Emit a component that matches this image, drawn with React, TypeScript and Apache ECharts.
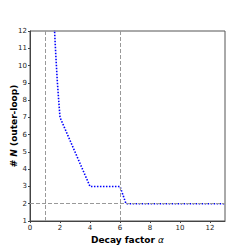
import React, { useEffect, useRef } from "react";
import * as echarts from "echarts";

const alphaValues = [1.62, 1.72, 1.82, 1.92, 2.0, 4.0, 6.0, 6.4, 13.0];
const nValues = [12.3, 10.6, 9.1, 7.9, 7.0, 3.0, 3.0, 2.0, 2.0];
const xTicks = [0, 2, 4, 6, 8, 10, 12];
const refAlphas = [1, 6];
const refN = [2];

export default function App() {
  const ref = useRef<HTMLDivElement>(null);
  useEffect(() => {
    const chart = echarts.init(ref.current!, null, { renderer: "svg" });
    const labelStyle = { fontSize: 7, color: "#222", fontFamily: "DejaVu Sans" };
    chart.setOption({
      animation: false,
      grid: {
        left: 30,
        right: 24,
        top: 31,
        bottom: 28,
        show: true,
        borderColor: "#555",
        borderWidth: 1,
        containLabel: false,
        outerBoundsMode: "none",
      },
      xAxis: {
        type: "value",
        min: 0,
        max: 13,
        name: "{b|Decay factor }{i|α}",
        nameLocation: "middle",
        nameGap: 13,
        nameTextStyle: {
          rich: {
            b: { fontSize: 9, fontWeight: "bold", color: "#000", fontFamily: "DejaVu Sans" },
            i: { fontSize: 9, fontStyle: "italic", color: "#000", fontFamily: "DejaVu Sans" },
          },
        },
        axisLine: { show: true, lineStyle: { color: "#444", width: 1 } },
        axisTick: { show: true, length: 2, customValues: xTicks, lineStyle: { color: "#444" } },
        axisLabel: { ...labelStyle, margin: 3, customValues: xTicks },
        splitLine: { show: false },
      },
      yAxis: {
        type: "value",
        min: 1,
        max: 12,
        interval: 1,
        name: "{b|# }{i|N}{b| (outer-loop)}",
        nameLocation: "middle",
        nameGap: 12,
        nameMoveOverlap: false,
        nameTextStyle: {
          rich: {
            b: { fontSize: 9, fontWeight: "bold", color: "#000", fontFamily: "DejaVu Sans" },
            i: { fontSize: 9, fontStyle: "italic", fontWeight: "bold", color: "#000", fontFamily: "DejaVu Sans" },
          },
        },
        axisLine: { show: true, lineStyle: { color: "#444", width: 1 } },
        axisTick: { show: true, length: 2, lineStyle: { color: "#444" } },
        axisLabel: { ...labelStyle, margin: 3 },
        splitLine: { show: false },
      },
      series: [
        {
          type: "line",
          data: alphaValues.map((a, i) => [a, nValues[i]]),
          showSymbol: false,
          symbol: "none",
          clip: true,
          lineStyle: { color: "#0000ff", width: 1.6, type: [1.5, 1.5] },
          markLine: {
            silent: true,
            symbol: "none",
            label: { show: false },
            lineStyle: { color: "#999", width: 1, type: [4, 2] },
            data: [
              ...refAlphas.map((a) => ({ xAxis: a })),
              ...refN.map((n) => ({ yAxis: n })),
            ],
          },
        },
      ],
    });
    return () => chart.dispose();
  }, []);
  return <div ref={ref} style={{ width: 249, height: 249, position: "absolute", left: 0, top: 0 }} />;
}
